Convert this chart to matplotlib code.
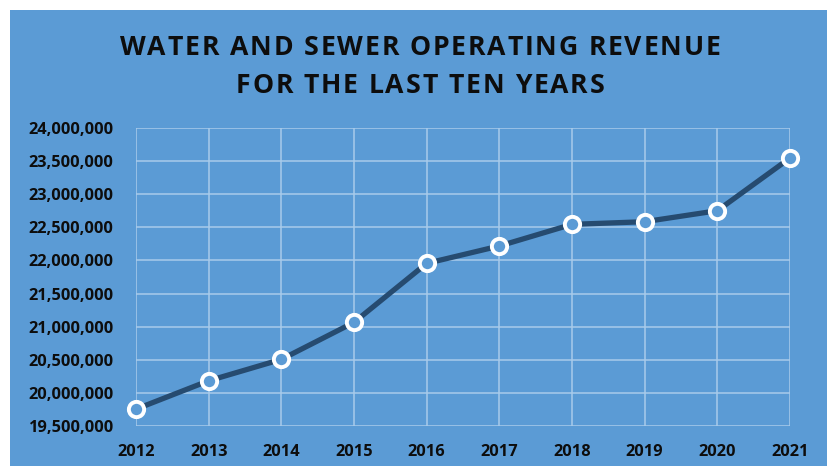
import matplotlib
matplotlib.use("Agg")
import matplotlib.pyplot as plt
from matplotlib.patches import Rectangle
from matplotlib.ticker import FuncFormatter

# data
years = [2012, 2013, 2014, 2015, 2016, 2017, 2018, 2019, 2020, 2021]
revenue = [19755000, 20183000, 20506000, 21065000, 21956000,
           22218000, 22545000, 22585000, 22751000, 23547000]
y_ticks = [19500000, 20000000, 20500000, 21000000, 21500000,
           22000000, 22500000, 23000000, 23500000, 24000000]
title_lines = ["WATER AND SEWER OPERATING REVENUE", "FOR THE LAST TEN YEARS"]

bg = "#5B9BD5"
line_col = "#264B70"
grid_col = "#A9CBEB"

plt.rcParams['font.family'] = ['Open Sans', 'DejaVu Sans']

fig = plt.figure(figsize=(8.27, 4.66), dpi=100)
fig.patch.set_facecolor("white")
# blue chart panel (white strip left and top like the screenshot)
fig.patches.append(Rectangle((10 / 827, 0), 1, 1 - 10 / 466,
                             transform=fig.transFigure, facecolor=bg,
                             edgecolor="none", zorder=0))

ax = fig.add_axes([136 / 827, 1 - 426 / 466, 654 / 827, 298 / 466])
ax.set_zorder(2)
ax.set_facecolor(bg)

ax.plot(years, revenue, color=line_col, lw=3.8, zorder=3,
        marker="o", markersize=11, markerfacecolor=bg,
        markeredgecolor="white", markeredgewidth=2.8, clip_on=False)

ax.set_xlim(years[0], years[-1])
ax.set_ylim(y_ticks[0], y_ticks[-1])
ax.set_xticks(years)
ax.set_yticks(y_ticks)
ax.yaxis.set_major_formatter(FuncFormatter(lambda v, p: f"{int(v):,}"))
ax.grid(True, color=grid_col, lw=1.1)
ax.set_axisbelow(True)
for s in ax.spines.values():
    s.set_visible(False)
ax.tick_params(length=0, labelsize=11.8, labelcolor="#0D0D0D")
ax.tick_params(axis="x", pad=13)
ax.tick_params(axis="y", pad=16)
for lbl in ax.get_xticklabels() + ax.get_yticklabels():
    lbl.set_fontweight("bold")

# title with extra letter spacing, placed char by char
renderer = fig.canvas.get_renderer()
W, H = fig.bbox.width, fig.bbox.height
spacing = 1.8  # px between letters
for line, yc in zip(title_lines, [48, 86]):
    widths = []
    for ch in line:
        t = fig.text(0, 0, ch if ch != " " else "a", fontsize=19.2,
                     fontweight="bold")
        w = t.get_window_extent(renderer).width
        if ch == " ":
            w *= 0.45
        widths.append(w)
        t.remove()
    total = sum(widths) + spacing * (len(line) - 1)
    x = 420 - total / 2
    for ch, w in zip(line, widths):
        if ch != " ":
            fig.text(x / W, 1 - yc / H, ch, ha="left", va="center",
                     fontsize=19.2, fontweight="bold", color="#0D0D0D")
        x += w + spacing

fig.savefig("out.png", dpi=100, facecolor=fig.get_facecolor())
